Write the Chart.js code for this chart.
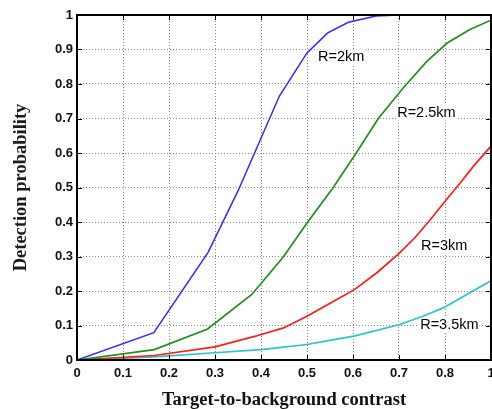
<!DOCTYPE html>
<html>
<head>
<meta charset="utf-8">
<script src="https://cdn.jsdelivr.net/npm/chart.js@4.4.1/dist/chart.umd.min.js"></script>
<style>
   html, body { margin: 0; padding: 0; background: #fff; }
   #wrap { width: 492px; height: 409px; }
</style>
</head>
<body>
<div id="wrap"><canvas id="pdChart"></canvas></div>
<script>
// Data (x in plotted axis units, the last tick reads "1")
// ----------------------------------------------
const xTickLabels = ['0', '0.1', '0.2', '0.3', '0.4', '0.5', '0.6', '0.7', '0.8', '1'];
const yTickLabels = ['0', '0.1', '0.2', '0.3', '0.4', '0.5', '0.6', '0.7', '0.8', '0.9', '1'];
const seriesNames = ['R=2km', 'R=2.5km', 'R=3km', 'R=3.5km'];

const contrast2km = [0, 0.167, 0.285, 0.35, 0.44, 0.50, 0.545, 0.59, 0.65, 0.70];
const pd2km       = [0, 0.079, 0.312, 0.49, 0.765, 0.89, 0.948, 0.979, 0.997, 1.0];

const contrast25km = [0, 0.168, 0.284, 0.38, 0.448, 0.50, 0.557, 0.607, 0.655, 0.71, 0.76, 0.804, 0.854, 0.90];
const pd25km       = [0, 0.030, 0.090, 0.19, 0.298, 0.397, 0.50, 0.60, 0.70, 0.79, 0.865, 0.918, 0.958, 0.985];

const contrast3km = [0, 0.168, 0.30, 0.388, 0.449, 0.50, 0.558, 0.603, 0.652, 0.702, 0.735, 0.767, 0.802, 0.833, 0.862, 0.90];
const pd3km       = [0, 0.013, 0.038, 0.069, 0.093, 0.127, 0.17, 0.204, 0.253, 0.311, 0.355, 0.405, 0.463, 0.513, 0.562, 0.62];

const contrast35km = [0, 0.167, 0.30, 0.40, 0.50, 0.558, 0.602, 0.702, 0.752, 0.796, 0.854, 0.90];
const pd35km       = [0, 0.009, 0.021, 0.030, 0.045, 0.059, 0.069, 0.103, 0.127, 0.151, 0.195, 0.23];

// where each curve name sits (data units)
const labelX = [0.524, 0.696, 0.748, 0.746];
const labelY = [0.877, 0.717, 0.329, 0.101];

const lineColors = ['#2b2bff', '#1f8f1f', '#ff1c1c', '#2cc4c4'];

const toPoints = (xs, ys) => xs.map((x, i) => ({ x: x, y: ys[i] }));


// Curve names, inward ticks and the black frame
// ----------------------------------------------
const framePlugin = {
   id: 'frame',
   beforeDatasetsDraw(chart) {
      const { ctx, scales: { x, y } } = chart;
      ctx.save();
      ctx.font = '14.5px "Liberation Sans", Arial, sans-serif';
      ctx.textBaseline = 'middle';
      ctx.textAlign = 'left';
      seriesNames.forEach((name, i) => {
         const px = x.getPixelForValue(labelX[i]);
         const py = y.getPixelForValue(labelY[i]);
         const w = ctx.measureText(name).width;
         ctx.fillStyle = '#fff';
         ctx.fillRect(px - 1, py - 8, w + 2, 16);
         ctx.fillStyle = '#000';
         ctx.fillText(name, px, py);
      });
      ctx.restore();
   },
   afterDraw(chart) {
      const { ctx, chartArea: a, scales: { x, y } } = chart;
      ctx.save();
      ctx.strokeStyle = '#000';
      ctx.lineWidth = 1;
      ctx.beginPath();
      x.ticks.forEach(t => {
         const px = Math.round(x.getPixelForValue(t.value)) + 0.5;
         ctx.moveTo(px, a.bottom); ctx.lineTo(px, a.bottom - 5);
         ctx.moveTo(px, a.top); ctx.lineTo(px, a.top + 5);
      });
      y.ticks.forEach(t => {
         const py = Math.round(y.getPixelForValue(t.value)) + 0.5;
         ctx.moveTo(a.left, py); ctx.lineTo(a.left + 5, py);
         ctx.moveTo(a.right, py); ctx.lineTo(a.right - 5, py);
      });
      ctx.stroke();
      ctx.lineWidth = 2;
      ctx.strokeRect(a.left, a.top, a.right - a.left, a.bottom - a.top);
      ctx.restore();
   }
};

const tickFont = { family: '"Liberation Sans", Arial, sans-serif', size: 13, weight: 'bold' };
const titleFont = { family: '"Liberation Serif", "Times New Roman", serif', size: 18.5, weight: 'bold' };

new Chart(document.getElementById('pdChart'), {
   type: 'line',
   data: {
      datasets: [
         { label: seriesNames[0], data: toPoints(contrast2km, pd2km), borderColor: lineColors[0], borderWidth: 1.5 },
         { label: seriesNames[1], data: toPoints(contrast25km, pd25km), borderColor: lineColors[1], borderWidth: 1.7 },
         { label: seriesNames[2], data: toPoints(contrast3km, pd3km), borderColor: lineColors[2], borderWidth: 1.7 },
         { label: seriesNames[3], data: toPoints(contrast35km, pd35km), borderColor: lineColors[3], borderWidth: 1.7 }
      ]
   },
   options: {
      responsive: true,
      maintainAspectRatio: false,
      animation: false,
      layout: { padding: { top: 15, right: 1, left: 0, bottom: 0 } },
      plugins: {
         legend: { display: false },
         tooltip: { enabled: false }
      },
      elements: {
         point: { radius: 0, hoverRadius: 0 },
         line: { tension: 0, fill: false }
      },
      scales: {
         x: {
            type: 'linear',
            min: 0,
            max: 0.9,
            afterFit: s => { s.height = 49; s.paddingLeft = 0; s.paddingRight = 0; },
            grid: { color: '#8a8a8a', lineWidth: 1, drawTicks: false },
            border: { display: false, dash: [1, 2] },
            ticks: {
               stepSize: 0.1,
               padding: 6,
               maxRotation: 0,
               autoSkip: false,
               color: '#111',
               font: tickFont,
               callback: (v, i) => xTickLabels[i]
            },
            title: {
               display: true,
               text: 'Target-to-background contrast',
               color: '#111',
               font: titleFont,
               padding: { top: 0, bottom: -2 }
            }
         },
         y: {
            type: 'linear',
            min: 0,
            max: 1,
            afterFit: s => { s.width = 77; },
            grid: { color: '#8a8a8a', lineWidth: 1, drawTicks: false },
            border: { display: false, dash: [1, 2] },
            ticks: {
               stepSize: 0.1,
               padding: 4,
               color: '#111',
               font: tickFont,
               callback: (v, i) => yTickLabels[i]
            },
            title: {
               display: true,
               text: 'Detection probability',
               color: '#1c1c1c',
               font: titleFont,
               padding: { top: 10.5, bottom: 0 }
            }
         }
      }
   },
   plugins: [framePlugin]
});
</script>
</body>
</html>
